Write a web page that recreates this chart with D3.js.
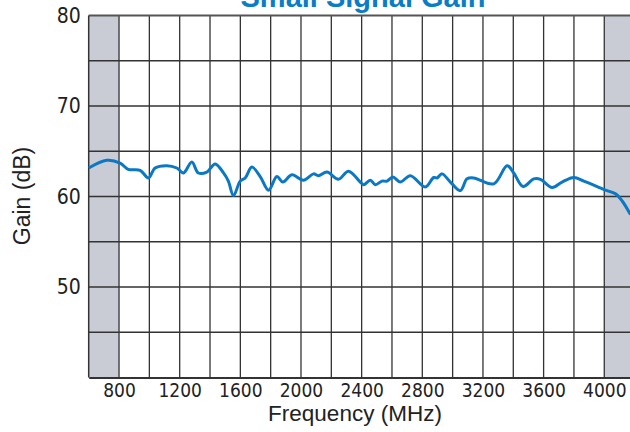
<!DOCTYPE html>
<html>
<head>
<meta charset="utf-8">
<script src="https://cdn.jsdelivr.net/npm/d3@7"></script>
<style>
  body { margin: 0; background: #fff; }
  svg { display: block; }
</style>
</head>
<body>
<svg id="chart" width="630" height="432"></svg>
<script>
// gain curve (MHz, dB)
const freq = [600, 719, 807, 861, 939, 994, 1038, 1115, 1181, 1225, 1280, 1323, 1379, 1434, 1489, 1521,
  1555, 1599, 1632, 1676, 1731, 1786, 1841, 1880, 1940, 2016, 2082, 2115, 2171, 2247, 2313, 2391,
  2413, 2457, 2490, 2534, 2567, 2606, 2655, 2721, 2820, 2875, 2897, 2930, 2985, 3051, 3095, 3139,
  3271, 3359, 3403, 3465, 3535, 3579, 3656, 3722, 3799, 3865, 3953, 4008, 4074, 4118, 4173]
const gain = [63.15, 64.0, 63.7, 63.0, 62.9, 62.05, 63.15, 63.4, 63.15, 62.6, 63.8, 62.6, 62.7, 63.6, 62.6, 61.7,
  60.1, 61.7, 62.05, 63.25, 62.2, 60.7, 62.2, 61.6, 62.4, 61.8, 62.5, 62.3, 62.7, 61.9, 62.8, 61.6,
  61.3, 61.8, 61.3, 61.7, 61.7, 62.15, 61.6, 62.3, 61.05, 62.1, 62.05, 62.5, 61.6, 60.65, 61.95, 62.05,
  61.4, 63.4, 62.6, 61.1, 61.95, 61.9, 61.0, 61.6, 62.1, 61.7, 61.1, 60.7, 60.3, 59.5, 58.0]

const xTicks = [800, 1200, 1600, 2000, 2400, 2800, 3200, 3600, 4000]
const yTicks = [50, 60, 70, 80]
const xGrid = d3.range(800, 4201, 200)
const yGrid = d3.range(45, 80, 5)
const shaded = [[600, 800], [4000, 4200]]

let svg = d3.select('#chart')

let x = d3.scaleLinear().domain([600, 4200]).range([88.7, 634.6])
let y = d3.scaleLinear().domain([40, 80]).range([377.5, 15.5])

// grey out of band areas
svg.selectAll('rect.band')
   .data(shaded)
   .enter()
   .append('rect')
     .attr('x', d => x(d[0]))
     .attr('y', y(80))
     .attr('width', d => x(d[1]) - x(d[0]))
     .attr('height', y(40) - y(80))
     .style('fill', '#c9ccd4')

svg.append('g')
   .selectAll('line')
   .data(xGrid)
   .enter()
   .append('line')
     .attr('x1', d => x(d)).attr('x2', d => x(d))
     .attr('y1', y(80)).attr('y2', y(40))
     .style('stroke', '#333').style('stroke-width', 1.3)

svg.append('g')
   .selectAll('line')
   .data(yGrid)
   .enter()
   .append('line')
     .attr('x1', x(600)).attr('x2', x(4200))
     .attr('y1', d => y(d)).attr('y2', d => y(d))
     .style('stroke', '#333').style('stroke-width', 1.3)

// frame
svg.append('line')
   .attr('x1', x(600)).attr('x2', x(4200)).attr('y1', y(80)).attr('y2', y(80))
   .style('stroke', '#555').style('stroke-width', 2)
svg.append('line')
   .attr('x1', x(600)).attr('x2', x(600)).attr('y1', y(80)).attr('y2', y(40))
   .style('stroke', '#333').style('stroke-width', 1.5)

let xAxis = d3.axisBottom(x).tickValues(xTicks).tickSize(0).tickPadding(6).tickFormat(d3.format('d'))
let gx = svg.append('g').attr('transform', 'translate(0,' + y(40) + ')').call(xAxis)
gx.select('.domain').style('stroke', '#333').style('stroke-width', 2)
gx.selectAll('text')
  .attr('dy', '0.7em')
  .style('font-family', '"Liberation Sans Narrow", "DejaVu Sans Condensed", sans-serif')
  .style('font-size', '19px').style('fill', '#222')

let yAxis = d3.axisLeft(y).tickValues(yTicks).tickSize(0).tickPadding(8)
let gy = svg.append('g').attr('transform', 'translate(' + x(600) + ',0)').call(yAxis)
gy.select('.domain').remove()
gy.selectAll('text')
  .style('font-family', '"Liberation Sans Narrow", "DejaVu Sans Condensed", sans-serif')
  .style('font-size', '21px').style('fill', '#222')

// gain curve
svg.append('path')
   .datum(freq.map((f, i) => [f, gain[i]]))
   .attr('d', d3.line().x(d => x(d[0])).y(d => y(d[1])).curve(d3.curveCatmullRom.alpha(0.5)))
   .style('fill', 'none')
   .style('stroke', '#0a78c4')
   .style('stroke-width', 3)
   .style('stroke-linejoin', 'round')

// titles
svg.append('text')
   .attr('x', 363).attr('y', 7)
   .attr('text-anchor', 'middle')
   .style('font-family', '"Liberation Sans", Arial, sans-serif')
   .style('font-weight', 'bold').style('font-size', '29px')
   .style('fill', '#0a7dc8')
   .text('Small Signal Gain')

svg.append('text')
   .attr('x', 355).attr('y', 421)
   .attr('text-anchor', 'middle')
   .style('font-family', '"Liberation Sans", Arial, sans-serif')
   .style('font-size', '22.5px').style('fill', '#222')
   .text('Frequency (MHz)')

svg.append('text')
   .attr('transform', 'translate(30,196) rotate(-90)')
   .attr('text-anchor', 'middle')
   .style('font-family', '"Liberation Sans", Arial, sans-serif')
   .style('font-size', '23px').style('fill', '#222')
   .text('Gain (dB)')
</script>
</body>
</html>
